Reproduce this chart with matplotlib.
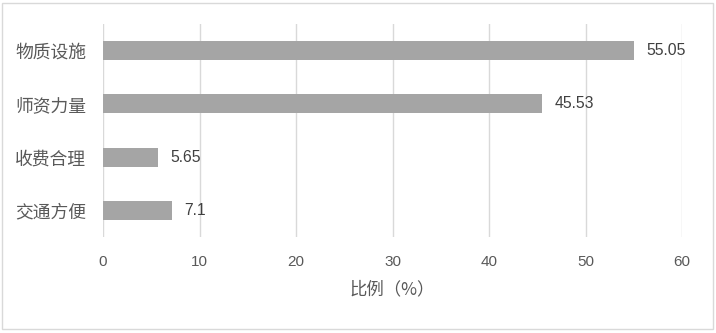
import matplotlib
matplotlib.use("Agg")
import matplotlib.pyplot as plt
from matplotlib.patches import Rectangle

categories = ["物质设施", "师资力量", "收费合理", "交通方便"]
values = [55.05, 45.53, 5.65, 7.1]
value_labels = ["55.05", "45.53", "5.65", "7.1"]
xticks = [0, 10, 20, 30, 40, 50, 60]

plt.rcParams['font.family'] = ['Noto Sans CJK SC', 'DejaVu Sans']

fig = plt.figure(figsize=(7.16, 3.33), dpi=100)
W, H = 716, 333
ax = fig.add_axes([103/W, (H-237)/H, (682-103)/W, (237-24)/H])

ypos = list(range(len(categories)))
ax.barh(ypos, values, height=0.36, color="#A5A5A5", zorder=3)
ax.set_ylim(len(categories)-0.5, -0.5)
ax.set_xlim(0, 60)
ax.set_xticks(xticks)
ax.set_xticklabels([str(t) for t in xticks], fontsize=11, color="#595959",
                   family=['Liberation Sans', 'DejaVu Sans'])
ax.set_yticks(ypos)
ax.set_yticklabels(categories, fontsize=12.8, color="#595959")
ax.tick_params(axis='both', length=0)
ax.tick_params(axis='x', pad=13)
ax.tick_params(axis='y', pad=12)
ax.grid(axis='x', color="#D9D9D9", linewidth=1.0, zorder=0)
for s in ax.spines.values():
    s.set_visible(False)

for y, v, lab in zip(ypos, values, value_labels):
    ax.annotate(lab, (v, y), xytext=(9, 0), textcoords='offset points',
                va='center', ha='left', fontsize=11.3, color="#404040",
                family=['Liberation Sans', 'DejaVu Sans'])

ax.set_xlabel("比例（%）", fontsize=12.5, color="#595959", labelpad=8)

fig.patches.append(Rectangle((2/W, 4/H), (713-2)/W, (330-4)/H, transform=fig.transFigure,
                             fill=False, edgecolor="#D9D9D9", linewidth=1.0))

fig.savefig("out.png", dpi=100, facecolor="white")
